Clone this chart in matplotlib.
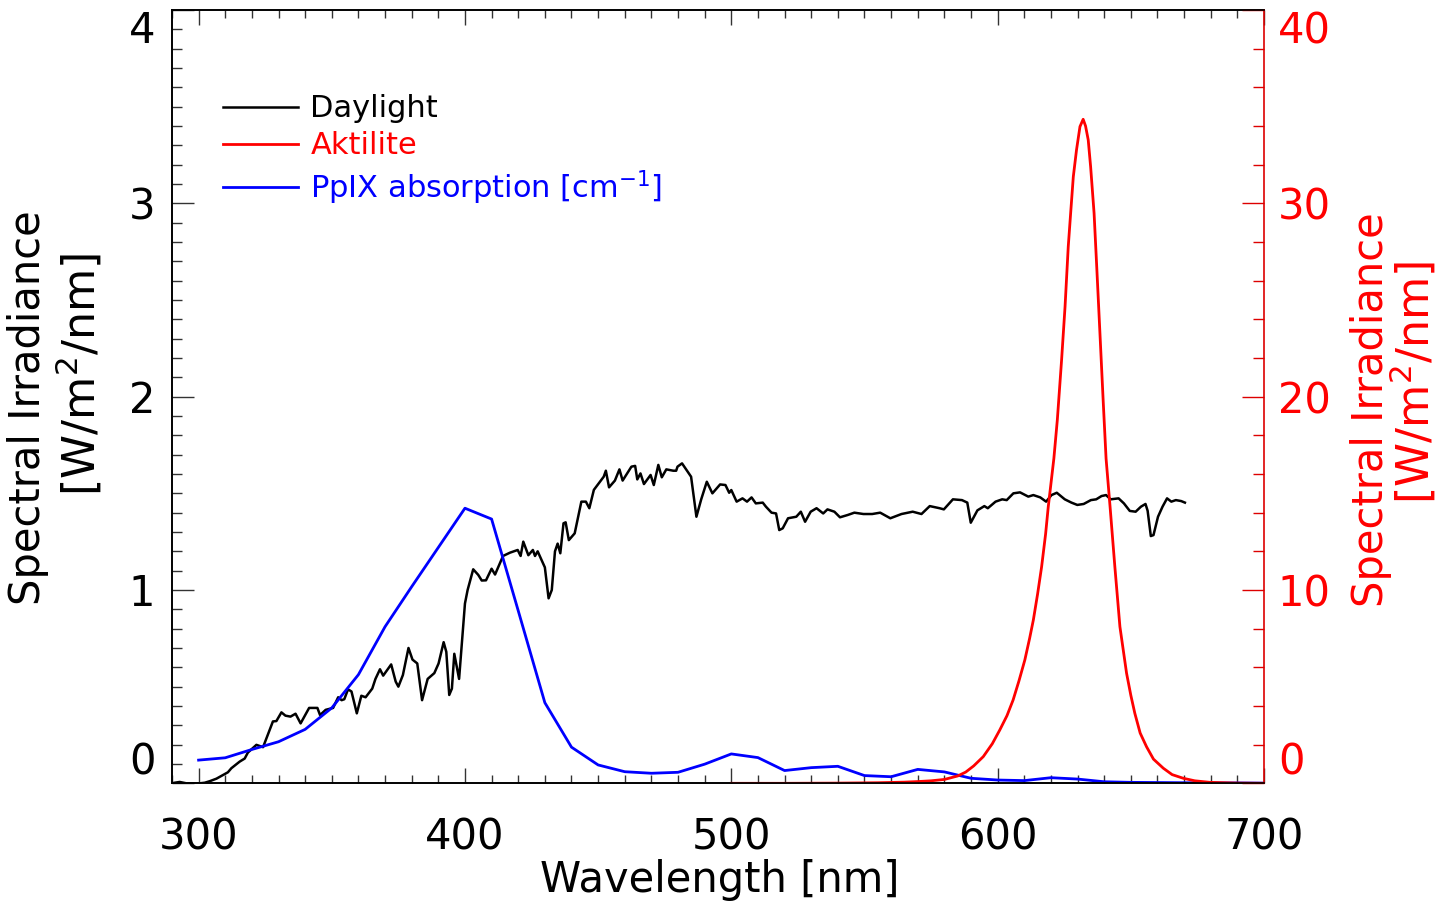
import matplotlib
matplotlib.use("Agg")
import matplotlib.pyplot as plt
from matplotlib.ticker import MultipleLocator

plt.rcParams['font.family'] = ['DejaVu Sans']
plt.rcParams['mathtext.default'] = 'regular'

# ---------------- data ----------------
daylight_wl = [291.0, 292.9, 295.4, 297.9, 300.4, 302.3, 304.2, 306.7, 308.5, 311.0,
               312.3, 315.4, 317.3, 318.5, 321.7, 324.2, 327.9, 329.2, 331.1, 332.6,
               334.5, 336.4, 338.3, 341.5, 344.6, 345.6, 347.7, 350.5, 352.4, 353.7,
               354.7, 356.1, 357.4, 359.4, 361.1, 362.7, 365.2, 366.4, 368.1, 369.3,
               370.8, 372.3, 374.0, 375.0, 376.7, 378.8, 380.3, 382.1, 383.9, 386.0,
               388.5, 390.1, 392.0, 393.0, 394.1, 395.1, 396.0, 397.8, 400.0, 401.0,
               403.1, 405.0, 406.3, 407.9, 410.0, 411.3, 414.3, 416.9, 419.8, 420.9,
               421.9, 423.8, 425.5, 426.3, 427.3, 430.0, 431.4, 432.6, 433.8, 434.8,
               435.8, 437.0, 437.8, 439.0, 441.2, 443.7, 445.4, 446.7, 448.4, 451.3,
               452.1, 452.9, 454.1, 456.3, 458.0, 459.2, 461.3, 462.5, 463.9, 464.7,
               465.9, 467.2, 469.7, 470.9, 472.6, 473.9, 475.6, 478.2, 479.3, 479.8,
               481.5, 483.2, 484.9, 486.9, 488.7, 490.8, 492.9, 495.8, 497.8, 499.2,
               500.0, 502.0, 504.2, 505.9, 507.6, 509.2, 511.8, 513.0, 515.1, 516.8,
               518.0, 519.3, 521.3, 524.4, 526.1, 527.7, 529.8, 532.0, 534.5, 536.1,
               538.7, 540.8, 543.7, 546.2, 549.6, 552.9, 555.9, 559.7, 563.9, 568.1,
               571.4, 574.5, 578.2, 579.8, 583.2, 586.6, 588.6, 589.9, 592.4, 595.0,
               596.3, 599.2, 601.7, 603.4, 605.9, 608.4, 611.5, 613.4, 616.0, 618.2,
               620.2, 622.2, 625.2, 627.7, 629.9, 632.3, 635.0, 637.0, 639.0, 640.7,
               642.4, 645.4, 647.4, 649.6, 651.8, 653.8, 655.5, 656.3, 657.5, 658.5,
               660.2, 661.9, 663.6, 665.2, 666.9, 668.9, 670.3]
daylight_irr = [0.003, 0.007, 0.0, 0.0, 0.0, 0.003, 0.011, 0.024, 0.038, 0.057,
                0.078, 0.112, 0.128, 0.159, 0.199, 0.187, 0.320, 0.322, 0.367, 0.35,
                0.345, 0.36, 0.31, 0.39, 0.39, 0.353, 0.38, 0.39, 0.445, 0.43,
                0.435, 0.486, 0.475, 0.362, 0.453, 0.445, 0.49, 0.54, 0.59, 0.557,
                0.586, 0.615, 0.526, 0.50, 0.56, 0.70, 0.64, 0.62, 0.43, 0.54,
                0.57, 0.62, 0.73, 0.68, 0.457, 0.49, 0.67, 0.54, 0.93, 1.00,
                1.107, 1.078, 1.049, 1.05, 1.11, 1.08, 1.176, 1.193, 1.207, 1.176,
                1.25, 1.18, 1.207, 1.176, 1.20, 1.117, 0.957, 1.00, 1.20, 1.24,
                1.19, 1.345, 1.35, 1.258, 1.293, 1.457, 1.457, 1.423, 1.518, 1.572,
                1.586, 1.617, 1.531, 1.566, 1.624, 1.566, 1.612, 1.638, 1.642, 1.572,
                1.603, 1.548, 1.595, 1.543, 1.647, 1.583, 1.624, 1.617, 1.617, 1.638,
                1.655, 1.621, 1.586, 1.379, 1.469, 1.560, 1.500, 1.546, 1.543, 1.503,
                1.517, 1.457, 1.474, 1.457, 1.479, 1.448, 1.452, 1.431, 1.400, 1.396,
                1.310, 1.319, 1.371, 1.379, 1.405, 1.353, 1.405, 1.423, 1.396, 1.417,
                1.405, 1.376, 1.388, 1.400, 1.393, 1.393, 1.400, 1.371, 1.393, 1.405,
                1.393, 1.434, 1.423, 1.417, 1.469, 1.465, 1.452, 1.348, 1.412, 1.434,
                1.423, 1.457, 1.469, 1.465, 1.500, 1.505, 1.483, 1.491, 1.479, 1.457,
                1.491, 1.503, 1.469, 1.452, 1.440, 1.445, 1.465, 1.469, 1.486, 1.491,
                1.469, 1.474, 1.448, 1.409, 1.405, 1.431, 1.445, 1.410, 1.279, 1.284,
                1.379, 1.431, 1.474, 1.457, 1.465, 1.460, 1.452]

pplx_wl = [300, 310, 320, 330, 340, 350, 360, 370, 380, 390, 400, 410, 420, 430,
           440, 450, 460, 470, 480, 490, 500, 510, 520, 530, 540, 550, 560, 570,
           580, 590, 600, 610, 620, 630, 640, 650, 660, 670, 680, 690, 700]
pplx_abs = [0.120, 0.132, 0.175, 0.215, 0.279, 0.390, 0.562, 0.810, 1.017, 1.22,
            1.423, 1.367, 0.893, 0.417, 0.187, 0.095, 0.060, 0.052, 0.057, 0.099,
            0.152, 0.133, 0.066, 0.081, 0.088, 0.040, 0.034, 0.072, 0.059, 0.026,
            0.017, 0.014, 0.029, 0.022, 0.008, 0.005, 0.004, 0.003, 0.002, 0.002,
            0.001]

aktilite_wl = [500, 520, 540, 555, 565, 570, 575, 580, 585, 588, 591, 594.6, 598,
               600.8, 603.5, 605.8, 608, 610.2, 612, 613.4, 615, 616.5, 618, 619,
               621.1, 622.4, 624.0, 625.3, 626.5, 627.4, 628.4, 629.6, 630.9, 632.1,
               633.0, 634.0, 634.9, 636.2, 637.2, 638.4, 639.6, 640.7, 642.2, 644.0,
               645.9, 648.4, 650.0, 651.5, 653.5, 655.9, 658.5, 662.2, 665.5, 669.7,
               674.0, 679.7, 690, 700]
aktilite_irr = [0.0, 0.0, 0.01, 0.03, 0.06, 0.09, 0.13, 0.2, 0.38, 0.58, 0.9, 1.38,
                2.05, 2.76, 3.5, 4.31, 5.3, 6.38, 7.5, 8.45, 9.8, 11.2, 12.9, 14.31,
                16.8, 18.8, 21.9, 24.66, 27.76, 29.49, 31.38, 32.76, 33.97, 34.35,
                34.0, 33.28, 31.9, 29.49, 26.7, 23.28, 19.83, 16.8, 14.31, 11.2,
                8.10, 5.69, 4.55, 3.62, 2.6, 1.89, 1.25, 0.78, 0.45, 0.26,
                0.13, 0.05, 0.01, 0.0]

left_ticks = [0, 1, 2, 3, 4]
right_ticks = [0, 10, 20, 30, 40]
x_ticks = [300, 400, 500, 600, 700]

# ---------------- figure ----------------
fig = plt.figure(figsize=(14.39, 9.21), dpi=100)
ax = fig.add_axes([0.1195, 0.1495, 0.7589, 0.8396])
ax2 = ax.twinx()

l1, = ax.plot(daylight_wl, daylight_irr, color='black', lw=1.8, label='Daylight')
l3, = ax.plot(pplx_wl, pplx_abs, color='#0000ff', lw=2.0,
              label='PpIX absorption [cm$^{-1}$]')
l2, = ax2.plot(aktilite_wl, aktilite_irr, color='#ff0000', lw=2.0, label='Aktilite')

ax.set_xlim(290, 700)
ax.set_ylim(0, 4)
ax2.set_ylim(0, 40)

tick_fs = 30
ax.set_xticks(x_ticks)
ax.xaxis.set_minor_locator(MultipleLocator(10))
ax.set_yticks(left_ticks)
ax.yaxis.set_minor_locator(MultipleLocator(0.1))
ax2.set_yticks(right_ticks)
ax2.yaxis.set_minor_locator(MultipleLocator(2))

ax.tick_params(axis='x', which='both', direction='in', top=True, bottom=True,
               labelsize=tick_fs, pad=24, width=1.0, color='#333333')
ax.tick_params(axis='x', which='major', length=11)
ax.tick_params(axis='x', which='minor', length=5.5)
ax.tick_params(axis='y', which='both', direction='in', left=True, right=False,
               labelsize=tick_fs, pad=12, width=1.0, color='#333333')
ax.tick_params(axis='y', which='major', length=16)
ax.tick_params(axis='y', which='minor', length=7.5)
ax2.tick_params(axis='y', which='both', direction='in', right=True, left=False,
                labelsize=tick_fs, pad=10, width=1.0, color='#dd0000',
                labelcolor='#ff0000')
ax2.tick_params(axis='y', which='major', length=16)
ax2.tick_params(axis='y', which='minor', length=8)

for a in (ax, ax2):
    for s in a.spines.values():
        s.set_linewidth(1.2)
ax2.spines['right'].set_color('#dd0000')
ax.spines['right'].set_visible(False)

# end labels kept inside the axis range, as in the reference
for lab, t in zip(ax.get_yticklabels(), left_ticks):
    if t == left_ticks[0]:
        lab.set_verticalalignment('bottom')
    elif t == left_ticks[-1]:
        lab.set_verticalalignment('top')
for lab, t in zip(ax2.get_yticklabels(), right_ticks):
    if t == right_ticks[0]:
        lab.set_verticalalignment('bottom')
    elif t == right_ticks[-1]:
        lab.set_verticalalignment('top')

# axis labels
fig.text(0.5003, 0.045, 'Wavelength [nm]', fontsize=30, ha='center', va='center')
fig.text(0.0195, 0.557, 'Spectral Irradiance', fontsize=30, rotation=90,
         ha='center', va='center')
fig.text(0.055, 0.593, '[W/m$^2$/nm]', fontsize=32, rotation=90,
         ha='center', va='center')
fig.text(0.953, 0.555, 'Spectral Irradiance', fontsize=30, rotation=90,
         ha='center', va='center', color='#ff0000')
fig.text(0.982, 0.585, '[W/m$^2$/nm]', fontsize=32, rotation=90,
         ha='center', va='center', color='#ff0000')

# legend
leg = ax2.legend(handles=[l1, l2, l3], loc='upper left',
                 bbox_to_anchor=(0.047, 0.891), frameon=False, fontsize=22,
                 handlelength=2.45, handletextpad=0.4, labelspacing=0.26,
                 borderpad=0, borderaxespad=0)
for txt, c in zip(leg.get_texts(), ['black', '#ff0000', '#0000ff']):
    txt.set_color(c)

fig.savefig('out.png', dpi=100)
